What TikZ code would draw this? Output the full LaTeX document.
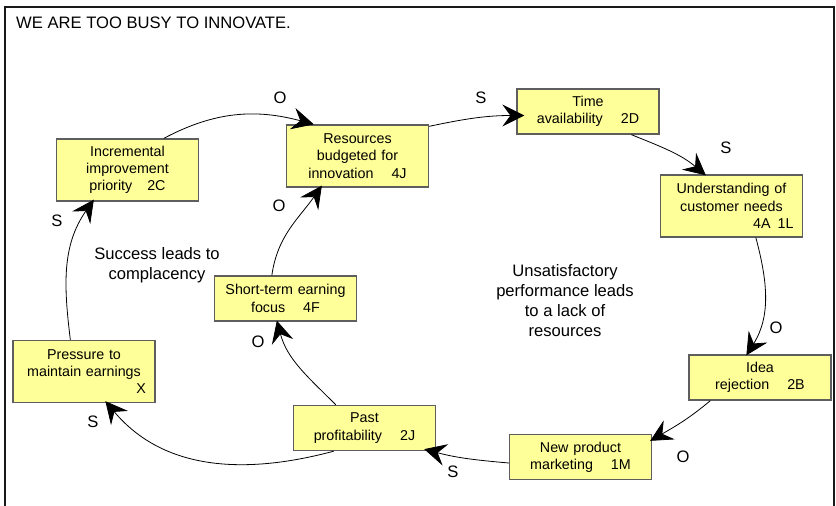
\documentclass[tikz,border=0pt]{standalone}
\usepackage{fontspec}
\setmainfont{Liberation Sans}
\usetikzlibrary{arrows.meta,calc}

\definecolor{boxfill}{HTML}{FFFF99}
\definecolor{boxline}{HTML}{5E5E5E}

\begin{document}
\begin{tikzpicture}[x=1pt,y=1pt,
  stepbox/.style={draw=boxline, fill=boxfill, line width=1.3pt, rectangle,
    text width=124pt, inner xsep=9pt, inner ysep=2pt, align=center,
    font=\fontsize{14.3}{17.3}\selectfont},
  box3/.style={stepbox, minimum height=62pt},
  box2/.style={stepbox, minimum height=45pt},
  link/.style={line width=0.8pt, -{Stealth[length=22pt,width=22pt,inset=8pt]}},
  sign/.style={inner sep=0pt, font=\fontsize{16.6}{20}\selectfont},
  loopnote/.style={inner sep=0pt, align=center, font=\fontsize{16.6}{20}\selectfont}]

\useasboundingbox (0,0) rectangle (836,-506);

% outer frame
\draw[line width=1.3pt, black!90] (5,-520) -- (5,-7) -- (834,-7) -- (834,-520);

\node[anchor=west, inner sep=0pt, font=\fontsize{16.6}{20}\selectfont] (title) at (16,-22.7)
  {WE ARE TOO BUSY TO INNOVATE.};

% variables
\node[box3] (inc)   at (127.5,-170)  {Incremental\\improvement\\priority\hspace{15pt}2C};
\node[box3] (res)   at (357.5,-156)  {Resources\\budgeted for\\innovation\hspace{18pt}4J};
\node[box2] (time)  at (588,-111.5)  {Time\\availability\hspace{18pt}2D};
\node[box3] (und)   at (731.5,-206)  {Understanding of\\customer needs\\\mbox{}\hfill 4A\hspace{7pt}1L};
\node[box2] (idea)  at (760,-377.5)  {Idea\\rejection\hspace{18pt}2B};
\node[box2] (newp)  at (580.5,-457)  {New product\\marketing\hspace{18pt}1M};
\node[box2] (past)  at (364.5,-428)  {Past\\profitability\hspace{18pt}2J};
\node[box3] (pres)  at (84,-371.5)   {Pressure to\\maintain earnings\\\mbox{}\hfill X};
\node[box2] (short) at (285.5,-298.5){Short-term earning\\focus\hspace{18pt}4F};

% loop descriptions
\node[loopnote] (loopA) at (157,-265) {Success leads to\\complacency};
\node[loopnote] (loopB) at (565,-301) {Unsatisfactory\\performance leads\\to a lack of\\resources};

% causal links
\draw[link] ($(inc.north west)+(108,0)$) to[out=28,in=165] ($(res.north west)+(28,0)$);
\draw[link] ($(res.north east)+(0,-2)$) to[out=12,in=180] ($(time.west)+(8,-4)$);
\draw[link] ($(time.south west)+(115,0)$) to[out=-22,in=140] ($(und.north west)+(46,-1)$);
\draw[link] ($(und.south west)+(96,0)$) to[out=-75,in=58] ($(idea.north west)+(58,-1)$);
\draw[link] ($(idea.south west)+(22,0)$) to[out=-140,in=30] ($(newp.north east)+(-2,-7)$);
\draw[link] ($(newp.west)+(0,-6)$) to[out=175,in=-15] ($(past.south east)+(-12,2)$);
\draw[link] ($(past.south west)+(41,0)$) to[out=195,in=-50] ($(pres.south west)+(93,2)$);
\draw[link] ($(past.north west)+(43,0)$) to[out=135,in=-75] ($(short.south west)+(63,1)$);
\draw[link] ($(short.north west)+(58,0)$) to[out=82,in=-125] ($(res.south west)+(36,2)$);
\draw[link] ($(pres.north west)+(58,0)$) to[out=97,in=-125] ($(inc.south west)+(38,2)$);

% link polarities
\node[sign] (s1)  at (280,-98)  {O};
\node[sign] (s2)  at (481,-98)  {S};
\node[sign] (s3)  at (726,-148) {S};
\node[sign] (s4)  at (776,-328) {O};
\node[sign] (s5)  at (683,-457) {O};
\node[sign] (s6)  at (453,-472) {S};
\node[sign] (s7)  at (93,-422)  {S};
\node[sign] (s8)  at (258,-342) {O};
\node[sign] (s9)  at (279,-206) {O};
\node[sign] (s10) at (57,-221)  {S};

\end{tikzpicture}
\end{document}
